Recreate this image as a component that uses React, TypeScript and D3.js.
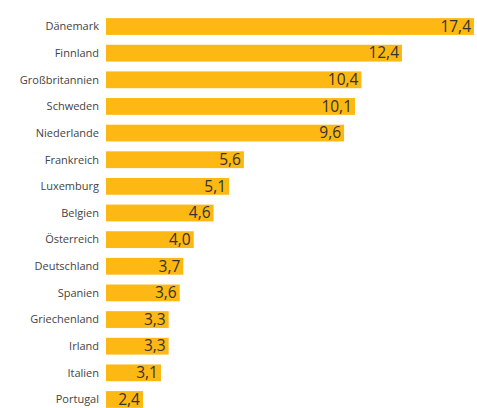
import React from "react";
import * as d3 from "d3";

const countries = [
  "Dänemark", "Finnland", "Großbritannien", "Schweden", "Niederlande",
  "Frankreich", "Luxemburg", "Belgien", "Österreich", "Deutschland",
  "Spanien", "Griechenland", "Irland", "Italien", "Portugal",
];
const values = [17.4, 12.4, 10.4, 10.1, 9.6, 5.6, 5.1, 4.6, 4.0, 3.7, 3.6, 3.3, 3.3, 3.1, 2.4];

const W = 477;
const H = 408;
const left = 106;
const maxWidth = 368;

export default function App() {
  const y = d3.scaleBand<string>().domain(countries).range([13.2, 13.2 + 26.64 * 15]).paddingInner(0.37).paddingOuter(0.185);
  const x = d3.scaleSqrt().domain([2.4, 3.1, 12.4]).range([37, 55, 296]);
  const fmt = (v: number) => d3.format(".1f")(v).replace(".", ",");
  return (
    <svg width={W} height={H} style={{ position: "absolute", left: 0, top: 0, background: "#fff" }}>
      {countries.map((c, i) => {
        const w = Math.min(x(values[i]), maxWidth);
        const yy = y(c)!;
        const cy = yy + y.bandwidth() / 2;
        return (
          <g key={c}>
            <rect x={left} y={yy} width={w} height={y.bandwidth()} fill="#FDB813" />
            <text x={99} y={cy} dy="0.35em" textAnchor="end" fontFamily="'Open Sans', sans-serif" fontSize={11} fill="#444">{c}</text>
            <text x={left + w - 3} y={cy} dy="0.34em" textAnchor="end" fontFamily="'Open Sans', sans-serif" fontSize={15.5} fill="#333">{fmt(values[i])}</text>
          </g>
        );
      })}
    </svg>
  );
}
